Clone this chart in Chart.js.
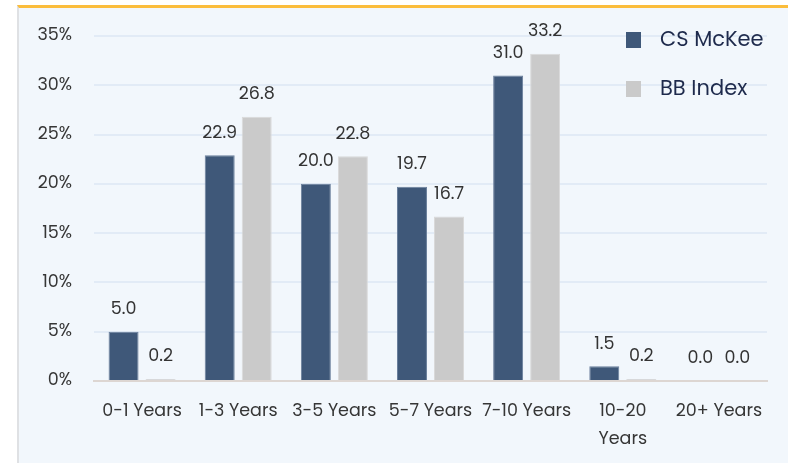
<!DOCTYPE html>
<html>
<head>
<meta charset="utf-8">
<script src="https://cdn.jsdelivr.net/npm/chart.js@4.4.1/dist/chart.umd.min.js"></script>
<style>
  html, body { margin: 0; padding: 0; background: #ffffff; }
  body { width: 788px; height: 463px; position: relative; overflow: hidden; }
  #card { position: absolute; left: 17px; top: 5px; width: 771px; height: 470px;
          background: #f2f7fc; border-top: 3px solid #fbbd3c; border-left: 2px solid #dfe1e4; box-sizing: border-box; }
  #wrap { position: absolute; left: 0; top: 0; width: 788px; height: 463px; }
</style>
</head>
<body>
<div id="card"></div>
<div id="wrap"><canvas id="c" width="788" height="463"></canvas></div>
<script>
const categories = ["0-1 Years", ["1-3 Years"], "3-5 Years", "5-7 Years", "7-10 Years", ["10-20", "Years"], "20+ Years"];
const seriesNames = ["CS McKee", "BB Index"];
const csMcKee = [5.0, 22.9, 20.0, 19.7, 31.0, 1.5, 0.0];
const bbIndex = [0.2, 26.8, 22.8, 16.7, 33.2, 0.2, 0.0];
const yTicks = [0, 5, 10, 15, 20, 25, 30, 35];
const colors = ["#3f5879", "#cacaca"];

const FONT = "Poppins, 'Open Sans', sans-serif";

const valueLabels = {
  id: 'valueLabels',
  afterDatasetsDraw(chart) {
    const ctx = chart.ctx;
    ctx.save();
    ctx.font = "17.5px " + FONT;
    ctx.fillStyle = "#333333";
    ctx.textAlign = "center";
    ctx.textBaseline = "middle";
    chart.data.datasets.forEach((ds, i) => {
      chart.getDatasetMeta(i).data.forEach((bar, j) => {
        ctx.fillText(ds.data[j].toFixed(1), bar.x, bar.y - 22);
      });
    });
    ctx.restore();
  }
};

const customLegend = {
  id: 'customLegend',
  afterDraw(chart) {
    const ctx = chart.ctx;
    ctx.save();
    ctx.font = "21px " + FONT;
    ctx.textBaseline = "middle";
    ctx.textAlign = "left";
    chart.data.datasets.forEach((ds, i) => {
      const y = 40 + i * 49;
      ctx.fillStyle = ds.backgroundColor;
      ctx.fillRect(626, y - 8, 15, 16);
      ctx.fillStyle = "#1e2a4c";
      ctx.fillText(ds.label, 660, y + 1);
    });
    ctx.restore();
  }
};

new Chart(document.getElementById('c'), {
  type: 'bar',
  data: {
    labels: categories,
    datasets: [
      { label: seriesNames[0], data: csMcKee, backgroundColor: colors[0], borderColor: "#6a7f9c", borderWidth: 1 },
      { label: seriesNames[1], data: bbIndex, backgroundColor: colors[1], borderColor: "#d9d9d9", borderWidth: 1 }
    ]
  },
  options: {
    responsive: false,
    animation: false,
    devicePixelRatio: 1,
    layout: { padding: { left: 0, right: 21, top: 36, bottom: 0 } },
    datasets: { bar: { categoryPercentage: 0.77, barPercentage: 0.81 } },
    plugins: { legend: { display: false }, tooltip: { enabled: false } },
    scales: {
      x: {
        grid: { display: false, drawTicks: false },
        border: { display: true, color: "#ddd6d2", width: 2 },
        ticks: { font: { size: 17.5, family: FONT, lineHeight: 1.6 }, color: "#363636", padding: 17, maxRotation: 0, autoSkip: false },
        afterFit(scale) { scale.height = 82; }
      },
      y: {
        min: 0, max: 35,
        afterBuildTicks(scale) { scale.ticks = yTicks.map(v => ({ value: v })); },
        grid: { color: "#e2ebf6", lineWidth: 2, drawTicks: false },
        border: { display: false },
        ticks: { font: { size: 17.5, family: FONT }, color: "#363636", padding: 22, callback: v => v + "%" },
        afterFit(scale) { scale.width = 94; }
      }
    }
  },
  plugins: [valueLabels, customLegend]
});
</script>
</body>
</html>
